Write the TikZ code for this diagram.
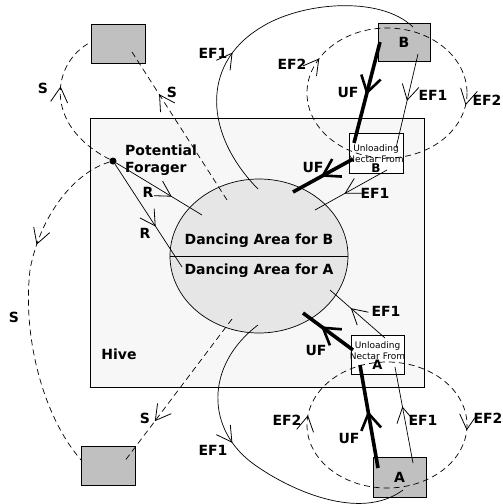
\documentclass[tikz,border=0pt]{standalone}
\usepackage{fontspec}
\setmainfont{DejaVu Sans}
\usetikzlibrary{decorations.markings,shapes.geometric}

\definecolor{hivefill}{RGB}{247,247,247}
\definecolor{dancefill}{RGB}{230,230,230}
\definecolor{sourcefill}{RGB}{192,192,192}

\tikzset{
  thin line/.style={line width=0.7pt},
  lbl/.style={font=\fontsize{14}{16}\selectfont\bfseries, inner sep=0pt},
  source/.style={draw, thin line, fill=sourcefill, inner sep=0pt, font=\fontsize{14}{16}\selectfont\bfseries},
  unloadbox/.style={draw, thin line, fill=white, inner sep=0pt, minimum width=54pt, minimum height=40pt},
  unloadtext/.style={align=center, inner sep=0pt, font=\fontsize{9}{10.5}\selectfont},
  search/.style={thin line, dash pattern=on 6pt off 4pt},
  unload flight/.style={line width=3.6pt},
  % open V heads in the middle of a line
  midarrow/.style={decoration={markings, mark=at position #1 with {\draw[solid, line width=0.8pt] (-15pt,8.5pt) -- (0pt,0pt) -- (-15pt,-8.5pt);}}, postaction={decorate}},
  bigarrow/.style={decoration={markings, mark=at position #1 with {\draw[solid, line width=2.6pt, line join=miter] (-16pt,10pt) -- (0pt,0pt) -- (-16pt,-10pt);}}, postaction={decorate}},
  twoarrows/.style 2 args={decoration={markings,
      mark=at position #1 with {\draw[solid, line width=0.8pt] (-15pt,8.5pt) -- (0pt,0pt) -- (-15pt,-8.5pt);},
      mark=at position #2 with {\draw[solid, line width=0.8pt] (-15pt,8.5pt) -- (0pt,0pt) -- (-15pt,-8.5pt);}}, postaction={decorate}},
}

\begin{document}
\begin{tikzpicture}[x=1pt,y=-1pt]
  \useasboundingbox (0,0) rectangle (503,504);

  % Hive with the dancing area
  \node[draw, thin line, fill=hivefill, minimum width=334pt, minimum height=268.5pt, inner sep=0pt] (hive) at (257,252.75) {};
  \node[lbl] at (119,354) {Hive};
  \node[ellipse, draw, thin line, fill=dancefill, minimum width=178pt, minimum height=154pt, inner sep=0pt] (dance) at (259,256) {};
  \draw[thin line] (dance.west) -- (dance.east);
  \node[lbl, anchor=base] at (259,244) {Dancing Area for B};
  \node[lbl, anchor=base] at (259,274) {Dancing Area for A};

  % Food sources
  \node[source, minimum width=54pt, minimum height=39pt] (srcTL) at (118,44) {};
  \node[source, minimum width=52pt, minimum height=38pt] (srcB) at (404,42) {B};
  \node[source, minimum width=54pt, minimum height=39pt] (srcBL) at (108,465.5) {};
  \node[source, minimum width=53pt, minimum height=40pt] (srcA) at (399.5,477) {A};

  % Unloading areas
  \node[unloadbox] (unloadB) at (376,153) {};
  \node[unloadtext] at (376,159) {Unloading\\Nectar From\\{\fontsize{12}{12}\selectfont\bfseries B}};
  \node[unloadbox, minimum width=53pt, minimum height=39pt] (unloadA) at (377.5,354.5) {};
  \node[unloadtext] at (377.5,356) {Unloading\\Nectar From\\{\fontsize{13}{13}\selectfont\bfseries A}};

  % Potential forager
  \node[circle, fill, inner sep=0pt, minimum size=7pt] (forager) at (113,161) {};
  \node[lbl, anchor=west, align=left, font=\fontsize{14}{17}\selectfont\bfseries] at (125,160) {Potential\\Forager};

  % End points inside the boxes and the dancing area
  \coordinate (tlWest) at (91,42);
  \coordinate (tlIn) at (132,52);
  \coordinate (blWest) at (82,461);
  \coordinate (blIn) at (124,462);
  \coordinate (danceS1) at (227,200);
  \coordinate (danceS2) at (232,319);
  \coordinate (danceR1) at (202,215);
  \coordinate (danceR2) at (182,267);
  \coordinate (danceEFtop) at (258,189);
  \coordinate (danceEFbot) at (258,325);
  \coordinate (bEF) at (413,27);
  \coordinate (aEF) at (403,490);
  \coordinate (bEF1) at (418,54);
  \coordinate (ulBin) at (396,148);
  \coordinate (ulBout) at (387,170);
  \coordinate (danceEF1B) at (315,210);
  \coordinate (ulAin) at (385,338);
  \coordinate (danceEF1A) at (330,290);
  \coordinate (aEF1) at (413,463);
  \coordinate (ulAout) at (395,367);
  \coordinate (bUF) at (380,42);
  \coordinate (ulBufIn) at (354,143);
  \coordinate (ulBufOut) at (353,159);
  \coordinate (danceUFB) at (293,192);
  \coordinate (aUF) at (378,468);
  \coordinate (ulAufIn) at (360,365);
  \coordinate (ulAufOut) at (353,350);
  \coordinate (danceUFA) at (303,313);
  \coordinate (loopB) at (387,93);
  \coordinate (loopA) at (387,425);

  % Scouting flights (S)
  \draw[search, midarrow=0.62] (forager) .. controls (42,125) and (52,62) .. (tlWest);
  \draw[search, midarrow=0.71] (danceS1) -- (tlIn);
  \draw[search, midarrow=0.33] (forager) .. controls (75,172) and (40,215) .. (30,270) .. controls (22,340) and (45,420) .. (blWest);
  \draw[search, midarrow=0.71] (danceS2) -- (blIn);
  \node[lbl] at (43,88) {S};
  \node[lbl] at (172,92) {S};
  \node[lbl] at (14,317) {S};
  \node[lbl] at (145,418) {S};

  % Recruitment (R)
  \draw[thin line, midarrow=0.64] (forager) -- (danceR1);
  \draw[thin line, midarrow=0.6] (forager) -- (danceR2);
  \node[lbl] at (148,192) {R};
  \node[lbl] at (145,233) {R};

  % Employed foragers, long way round (EF1)
  \draw[thin line, midarrow=0.43] (danceEFtop) .. controls (205,135) and (200,65) .. (260,28) .. controls (300,2) and (380,-5) .. (bEF);
  \draw[thin line, midarrow=0.41] (danceEFbot) .. controls (205,365) and (205,430) .. (255,465) .. controls (290,490) and (360,522) .. (aEF);
  \node[lbl] at (213,53) {EF1};
  \node[lbl] at (213,450) {EF1};

  % Employed foragers, short loop (EF2)
  \draw[search, twoarrows={0.025}{0.58}] (loopB) ellipse [x radius=80, y radius=65];
  \draw[search, twoarrows={0.01}{0.52}] (loopA) ellipse [x radius=80, y radius=63];
  \node[lbl] at (292,64) {EF2};
  \node[lbl] at (487,100) {EF2};
  \node[lbl] at (287,420) {EF2};
  \node[lbl] at (488,418) {EF2};

  % Employed foragers via the unloading areas (EF1)
  \draw[thin line, midarrow=0.49] (bEF1) -- (ulBin);
  \draw[thin line, midarrow=0.58] (ulBout) -- (danceEF1B);
  \draw[thin line, midarrow=0.61] (ulAin) -- (danceEF1A);
  \draw[thin line, midarrow=0.58] (aEF1) -- (ulAout);
  \node[lbl] at (433,95) {EF1};
  \node[lbl] at (375,193) {EF1};
  \node[lbl] at (386,311) {EF1};
  \node[lbl] at (423,420) {EF1};

  % Unloading foragers (UF)
  \draw[unload flight, bigarrow=0.5] (bUF) -- (ulBufIn);
  \draw[unload flight, bigarrow=0.5] (ulBufOut) -- (danceUFB);
  \draw[unload flight, bigarrow=0.53] (aUF) -- (ulAufIn);
  \draw[unload flight, bigarrow=0.6] (ulAufOut) -- (danceUFA);
  \node[lbl] at (348,92) {UF};
  \node[lbl] at (313,167) {UF};
  \node[lbl] at (349,438) {UF};
  \node[lbl] at (316,350) {UF};
\end{tikzpicture}
\end{document}
